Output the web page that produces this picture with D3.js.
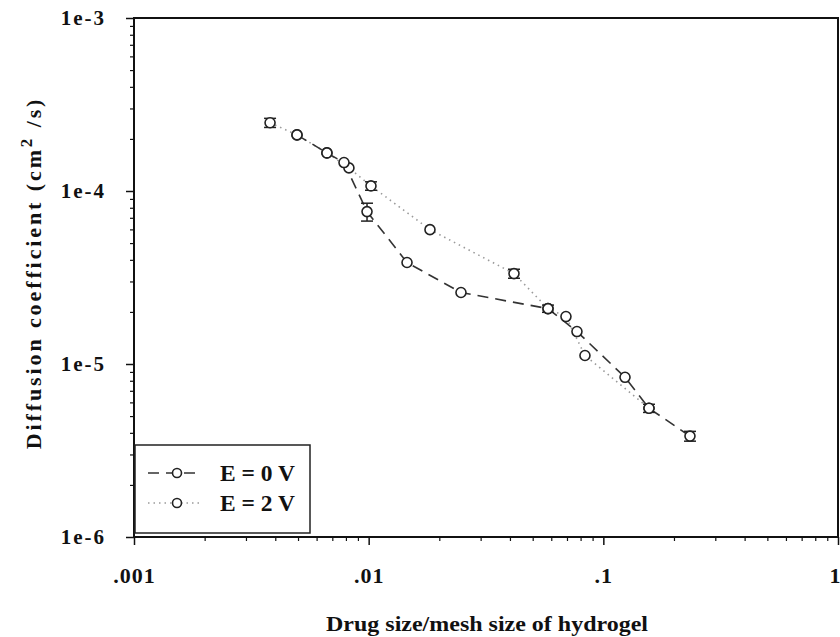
<!DOCTYPE html>
<html><head><meta charset="utf-8">
<script src="https://cdnjs.cloudflare.com/ajax/libs/d3/7.8.5/d3.min.js"></script>
<style>html,body{margin:0;padding:0;background:#fff;}svg{display:block;}</style>
</head><body>
<script>
// ---- data ----
const xTickValues = [0.001, 0.01, 0.1, 1];
const xTickLabels = [".001", ".01", ".1", "1"];
const yTickValues = [1e-3, 1e-4, 1e-5, 1e-6];
const yTickLabels = ["1e-3", "1e-4", "1e-5", "1e-6"];

const e0X = [0.00495, 0.00664, 0.00785, 0.00984, 0.01457, 0.02474, 0.0581, 0.0772, 0.1237, 0.1565, 0.234];
const e0Y = [2.11e-4, 1.66e-4, 1.46e-4, 7.6e-5, 3.86e-5, 2.59e-5, 2.09e-5, 1.54e-5, 8.38e-6, 5.55e-6, 3.83e-6];
const e0Err = [0, 0, 0, 9e-6, 0, 0, 1e-6, 0, 0, 3e-7, 2.5e-7];

const e2X = [0.0038, 0.00495, 0.00664, 0.00824, 0.01023, 0.01825, 0.04162, 0.0581, 0.0693, 0.0835, 0.1565];
const e2Y = [2.48e-4, 2.11e-4, 1.66e-4, 1.36e-4, 1.07e-4, 5.98e-5, 3.33e-5, 2.09e-5, 1.88e-5, 1.12e-5, 5.55e-6];
const e2Err = [1.5e-5, 0, 0, 0, 6e-6, 0, 2e-6, 0, 0, 0, 0];

const legendLabels = ["E = 0 V", "E = 2 V"];

// ---- layout ----
const W = 840, H = 637;
const L = 134, R = 838, T = 18, B = 537;
const font = "'Liberation Serif','Times New Roman',serif";

const svg = d3.select("body").append("svg").attr("width", W).attr("height", H);

const x = d3.scaleLog().domain([0.001, 1]).range([L, R]);
const y = d3.scaleLog().domain([1e-6, 1e-3]).range([B, T]);

// frame
svg.append("rect").attr("x", L).attr("y", T).attr("width", R - L).attr("height", B - T)
  .attr("fill", "none").attr("stroke", "#111").attr("stroke-width", 2);

// minor ticks
const xMinor = [];
for (let d = 0.001; d < 1; d *= 10) for (let k = 2; k <= 9; k++) xMinor.push(d * k);
const yMinor = [];
for (let d = 1e-6; d < 1e-3; d *= 10) for (let k = 2; k <= 9; k++) yMinor.push(d * k);

const xAxis = d3.axisBottom(x).tickValues(xTickValues).tickSize(8).tickFormat((d, i) => xTickLabels[i]).tickPadding(22);
const gx = svg.append("g").attr("transform", `translate(0,${B})`).call(xAxis);
gx.select(".domain").remove();
gx.selectAll("line").attr("stroke", "#111").attr("stroke-width", 1.5);
gx.selectAll("text").attr("font-family", font).attr("font-weight", "bold").attr("font-size", 22)
  .attr("letter-spacing", 1).attr("fill", "#111")
  .attr("dx", (d, i) => i === xTickLabels.length - 1 ? -3 : 0);
const gxm = svg.append("g").attr("transform", `translate(0,${B})`)
  .call(d3.axisBottom(x).tickValues(xMinor).tickSize(4).tickFormat(""));
gxm.select(".domain").remove();
gxm.selectAll("line").attr("stroke", "#111").attr("stroke-width", 1.2);

const yAxis = d3.axisLeft(y).tickValues(yTickValues).tickSize(8).tickFormat((d, i) => yTickLabels[i]).tickPadding(20);
const gy = svg.append("g").attr("transform", `translate(${L},0)`).call(yAxis);
gy.select(".domain").remove();
gy.selectAll("line").attr("stroke", "#111").attr("stroke-width", 1.5);
gy.selectAll("text").attr("font-family", font).attr("font-weight", "bold").attr("font-size", 21).attr("fill", "#111")
  .attr("letter-spacing", 2);
const gym = svg.append("g").attr("transform", `translate(${L},0)`)
  .call(d3.axisLeft(y).tickValues(yMinor).tickSize(4).tickFormat(""));
gym.select(".domain").remove();
gym.selectAll("line").attr("stroke", "#111").attr("stroke-width", 1.2);

// axis titles
svg.append("text").attr("x", 487).attr("y", 631)
  .attr("text-anchor", "middle").attr("font-family", font).attr("font-weight", "bold")
  .attr("font-size", 22).attr("fill", "#111")
  .attr("textLength", 322).attr("lengthAdjust", "spacingAndGlyphs")
  .text("Drug size/mesh size of hydrogel");

const yl = svg.append("text").attr("transform", `translate(41,273) rotate(-90)`)
  .attr("text-anchor", "middle").attr("font-family", font).attr("font-weight", "bold")
  .attr("font-size", 22).attr("letter-spacing", 2.9).attr("fill", "#111");
yl.append("tspan").text("Diffusion coefficient (cm");
yl.append("tspan").attr("dy", -9).attr("font-size", 17).text("2");
yl.append("tspan").attr("dy", 9).text(" /s)");

// series
const line = d3.line().x(d => x(d[0])).y(d => y(d[1]));
const s0 = e0X.map((v, i) => [v, e0Y[i], e0Err[i]]);
const s2 = e2X.map((v, i) => [v, e2Y[i], e2Err[i]]);

svg.append("path").datum(s2).attr("d", line).attr("fill", "none")
  .attr("stroke", "#9a9a9a").attr("stroke-width", 1.6).attr("stroke-dasharray", "1.5,4");
svg.append("path").datum(s0).attr("d", line).attr("fill", "none")
  .attr("stroke", "#333").attr("stroke-width", 1.6).attr("stroke-dasharray", "11,7");

function errBars(data) {
  const g = svg.append("g").attr("stroke", "#222").attr("stroke-width", 1.5);
  data.filter(d => d[2] > 0).forEach(d => {
    const cx = x(d[0]), yt = y(d[1] + d[2]), yb = y(d[1] - d[2]);
    g.append("line").attr("x1", cx).attr("x2", cx).attr("y1", yt).attr("y2", yb);
    g.append("line").attr("x1", cx - 6).attr("x2", cx + 6).attr("y1", yt).attr("y2", yt);
    g.append("line").attr("x1", cx - 6).attr("x2", cx + 6).attr("y1", yb).attr("y2", yb);
  });
}
errBars(s2);
errBars(s0);

function markers(data) {
  svg.append("g").selectAll("circle").data(data).join("circle")
    .attr("cx", d => x(d[0])).attr("cy", d => y(d[1])).attr("r", 5)
    .attr("fill", "#fff").attr("stroke", "#222").attr("stroke-width", 1.6);
}
markers(s2);
markers(s0);

// legend
const lg = svg.append("g");
lg.append("rect").attr("x", 135).attr("y", 445).attr("width", 175).attr("height", 88)
  .attr("fill", "#fff").attr("stroke", "#222").attr("stroke-width", 1.5);
const rows = [
  {label: legendLabels[0], dash: "11,7", color: "#333"},
  {label: legendLabels[1], dash: "1.5,4", color: "#9a9a9a"}
];
rows.forEach((r, i) => {
  const yy = 473 + i * 30;
  lg.append("line").attr("x1", 148).attr("x2", 200).attr("y1", yy).attr("y2", yy)
    .attr("stroke", r.color).attr("stroke-width", 1.6).attr("stroke-dasharray", r.dash);
  lg.append("circle").attr("cx", 177).attr("cy", yy).attr("r", 4.5)
    .attr("fill", "#fff").attr("stroke", "#222").attr("stroke-width", 1.6);
  lg.append("text").attr("x", 220).attr("y", yy + 8).attr("font-family", font)
    .attr("font-weight", "bold").attr("font-size", 23).attr("fill", "#111")
    .attr("textLength", 75).attr("lengthAdjust", "spacingAndGlyphs").text(r.label);
});
</script>
</body></html>
